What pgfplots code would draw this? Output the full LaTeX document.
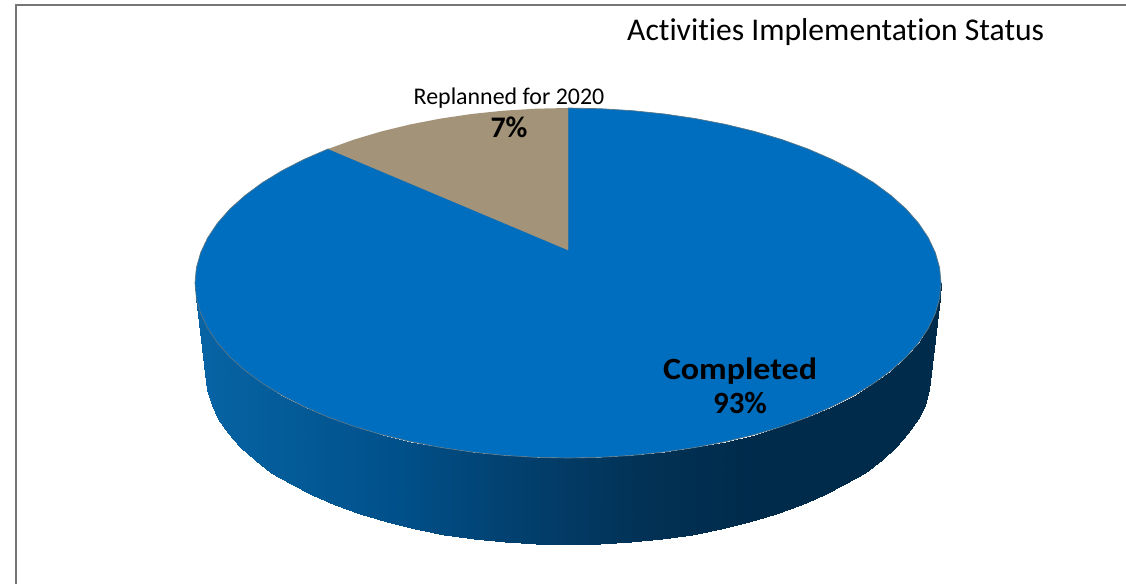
\documentclass[border=0pt]{standalone}
\usepackage{fontspec}
\setmainfont{Carlito}[Ligatures=NoCommon]
\usepackage{pgfplots}
\pgfplotsset{compat=1.18}
\definecolor{pieblue}{RGB}{0,110,190}
\definecolor{piebrown}{RGB}{163,148,121}
\definecolor{rimline}{RGB}{88,118,135}
\definecolor{framegray}{RGB}{118,118,118}
\begin{document}
\begin{tikzpicture}
\path[use as bounding box] (0,0) rectangle (1126bp,584bp);
\begin{axis}[
  at={(0,0)}, anchor=south west,
  width=1126bp, height=584bp, scale only axis,
  xmin=0, xmax=1126, ymin=0, ymax=584, zmin=-1, zmax=1,
  view={0}{90},
  axis lines=none, clip=true,
  colormap={side}{rgb255(0pt)=(8,100,166); rgb255(105pt)=(3,90,150); rgb255(205pt)=(0,80,138); rgb255(305pt)=(2,66,114); rgb255(445pt)=(2,50,86); rgb255(555pt)=(0,43,75); rgb255(746pt)=(0,43,75)},
  point meta min=195, point meta max=941,
]
% frame
\addplot[framegray, line width=2bp, forget plot] coordinates {(16,0) (16,579) (1126,579)};
% side of the disc
\addplot3[surf, shader=interp, mesh/rows=2, point meta=x, forget plot] table {
x y z
195 301 0
196.4 285.7 0
200.7 270.6 0
207.7 255.7 0
217.5 241.1 0
229.9 227 0
245 213.5 0
262.4 200.6 0
282.3 188.5 0
304.2 177.3 0
328.2 166.9 0
354 157.6 0
381.5 149.4 0
410.4 142.4 0
440.4 136.6 0
471.5 132 0
503.2 128.7 0
535.5 126.7 0
568 126 0
600.5 126.7 0
632.8 128.7 0
664.5 132 0
695.6 136.6 0
725.6 142.4 0
754.5 149.4 0
782 157.6 0
807.8 166.9 0
831.8 177.3 0
853.7 188.5 0
873.6 200.6 0
891 213.5 0
906.1 227 0
918.5 241.1 0
928.3 255.7 0
935.3 270.6 0
939.6 285.7 0
941 301 0
206 209 0
207.4 194.2 0
211.5 179.5 0
218.3 165 0
227.8 150.9 0
239.9 137.2 0
254.5 124 0
271.4 111.5 0
290.7 99.7 0
312 88.8 0
335.3 78.8 0
360.4 69.7 0
387 61.8 0
415 54.9 0
444.2 49.3 0
474.3 44.8 0
505.2 41.6 0
536.4 39.6 0
568 39 0
599.6 39.6 0
630.8 41.6 0
661.7 44.8 0
691.8 49.3 0
721 54.9 0
749 61.8 0
775.6 69.7 0
800.7 78.8 0
824 88.8 0
845.3 99.7 0
864.6 111.5 0
881.5 124 0
896.1 137.2 0
908.2 150.9 0
917.7 165 0
924.5 179.5 0
928.6 194.2 0
930 209 0
};
% Completed 93%
\addplot[fill=pieblue, draw=rimline, line width=0.7bp, forget plot] coordinates {
(568,334) (568,476) (600.5,475.3) (632.8,473.3) (664.5,470) (695.6,465.4) (725.6,459.6) (754.5,452.6) (782,444.4) (807.8,435.1) (831.8,424.7) (853.7,413.5) (873.6,401.4) (891,388.5) (906.1,375) (918.5,360.9) (928.3,346.3) (935.3,331.4) (939.6,316.3) (941,301)
(939.6,285.7) (935.3,270.6) (928.3,255.7) (918.5,241.1) (906.1,227) (891,213.5) (873.6,200.6) (853.7,188.5) (831.8,177.3) (807.8,166.9) (782,157.6) (754.5,149.4) (725.6,142.4) (695.6,136.6) (664.5,132) (632.8,128.7) (600.5,126.7) (568,126)
(535.5,126.7) (503.2,128.7) (471.5,132) (440.4,136.6) (410.4,142.4) (381.5,149.4) (354,157.6) (328.2,166.9) (304.2,177.3) (282.3,188.5) (262.4,200.6) (245,213.5) (229.9,227) (217.5,241.1) (207.7,255.7) (200.7,270.6) (196.4,285.7) (195,301)
(196.4,316.3) (200.7,331.4) (207.7,346.3) (217.5,360.9) (229.9,375) (245,388.5) (262.4,401.4) (282.3,413.5) (304.2,424.7) (328.2,435.1) (568,334)
};
% Replanned for 2020 7%
\addplot[fill=piebrown, draw=none, forget plot] coordinates {
(568,334) (568,476) (535.5,475.3) (503.2,473.3) (471.5,470) (440.4,465.4) (410.4,459.6) (381.5,452.6) (354,444.4) (328.2,435.1) (568,334)
};
\node[anchor=west, inner sep=0pt, font=\fontsize{31.75}{32}\selectfont] at (axis cs:627,552) {Activities Implementation Status};
\node[inner sep=0pt, font=\fontsize{24}{24}\selectfont] at (axis cs:509,486) {Replanned for 2020};
\node[inner sep=0pt, font=\fontsize{30}{30}\selectfont\bfseries] at (axis cs:509,457) {7\%};
\node[inner sep=0pt, xscale=1.1, transform shape, font=\fontsize{31}{31}\selectfont\bfseries] at (axis cs:740,213) {Completed};
\node[inner sep=0pt, font=\fontsize{31}{31}\selectfont\bfseries] at (axis cs:740,181) {93\%};
\end{axis}
\end{tikzpicture}
\end{document}
